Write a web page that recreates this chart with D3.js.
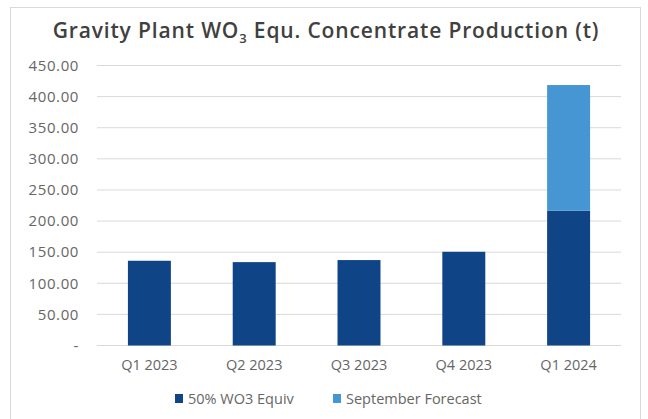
<!DOCTYPE html>
<html>
<head>
<meta charset="utf-8">
<script src="https://cdn.jsdelivr.net/npm/d3@7"></script>
<style>
  body { margin: 0; background: #fff; }
  text { font-family: "Open Sans", "DejaVu Sans", sans-serif; }
</style>
</head>
<body>
<div id="chart"></div>
<script>
// data
var quarters = ["Q1 2023", "Q2 2023", "Q3 2023", "Q4 2023", "Q1 2024"];
var wo3Equiv = [136.2, 134.0, 137.3, 150.6, 216.6];
var septForecast = [0, 0, 0, 0, 202.0];
var seriesNames = ["50% WO3 Equiv", "September Forecast"];
var yTicks = [0, 50, 100, 150, 200, 250, 300, 350, 400, 450];

var W = 648, H = 419;
var margin = { top: 65.5, right: 27, bottom: 73.5, left: 97 };
var width = W - margin.left - margin.right;
var height = H - margin.top - margin.bottom;

var svg = d3.select("#chart").append("svg")
  .attr("width", W)
  .attr("height", H);

// outer chart border
svg.append("rect")
  .attr("x", 10.5).attr("y", 7.5)
  .attr("width", 630).attr("height", 420)
  .style("fill", "none")
  .style("stroke", "#d9d9d9");

// title
var title = svg.append("text")
  .attr("x", 326)
  .attr("y", 38)
  .attr("text-anchor", "middle")
  .style("font-size", "21px")
  .style("font-weight", 600)
  .style("letter-spacing", "0.85px")
  .style("fill", "#404040");
title.append("tspan").text("Gravity Plant WO");
title.append("tspan").attr("dy", 5).style("font-size", "13px").text("3");
title.append("tspan").attr("dy", -5).text(" Equ. Concentrate Production (t)");

var g = svg.append("g")
  .attr("transform", "translate(" + margin.left + "," + margin.top + ")");

var x = d3.scaleBand().domain(quarters).range([0, width]).paddingInner(0.59).paddingOuter(0.295);
var y = d3.scaleLinear().domain([0, 450]).range([height, 0]);

var fmt = d3.format(".2f");

// gridlines
g.selectAll(".grid")
  .data(yTicks)
  .enter().append("line")
  .attr("class", "grid")
  .attr("x1", 0).attr("x2", width)
  .attr("y1", d => y(d)).attr("y2", d => y(d))
  .style("stroke", "#d9d9d9")
  .style("stroke-width", 1);

// y axis labels
var yAxis = g.append("g")
  .call(d3.axisLeft(y).tickValues(yTicks).tickSize(0).tickPadding(18)
    .tickFormat(d => d === 0 ? "-" : fmt(d)));
yAxis.select(".domain").remove();
yAxis.selectAll("text")
  .style("font-size", "15px")
  .style("letter-spacing", "0.6px")
  .style("fill", "#666")
  .style("font-family", "'Open Sans', sans-serif");

// stacked bars
var stackData = quarters.map((q, i) => ({ q: q, a: wo3Equiv[i], b: septForecast[i] }));
var stack = d3.stack().keys(["a", "b"])(stackData);
var colors = ["#0f4587", "#4596d2"];

g.selectAll(".layer")
  .data(stack)
  .enter().append("g")
  .attr("class", "layer")
  .style("fill", (d, i) => colors[i])
  .selectAll("rect")
  .data(d => d)
  .enter().append("rect")
  .attr("x", d => x(d.data.q))
  .attr("width", x.bandwidth())
  .attr("y", d => y(d[1]))
  .attr("height", d => y(d[0]) - y(d[1]));

// x axis labels
var xAxis = g.append("g")
  .attr("transform", "translate(0," + height + ")")
  .call(d3.axisBottom(x).tickSize(0).tickPadding(14));
xAxis.select(".domain").remove();
xAxis.selectAll("text")
  .style("font-size", "14.5px")
  .style("fill", "#666")
  .style("font-family", "'Open Sans', sans-serif");

// legend
var legendX = [175, 333];
var legend = svg.selectAll(".legend")
  .data(seriesNames)
  .enter().append("g")
  .attr("class", "legend")
  .attr("transform", (d, i) => "translate(" + legendX[i] + ",394)");

legend.append("rect")
  .attr("width", 8)
  .attr("height", 9)
  .style("fill", (d, i) => colors[i]);

legend.append("text")
  .attr("x", 13)
  .attr("y", 9.5)
  .style("font-size", "14.5px")
  .style("fill", "#666")
  .text(d => d);
</script>
</body>
</html>
